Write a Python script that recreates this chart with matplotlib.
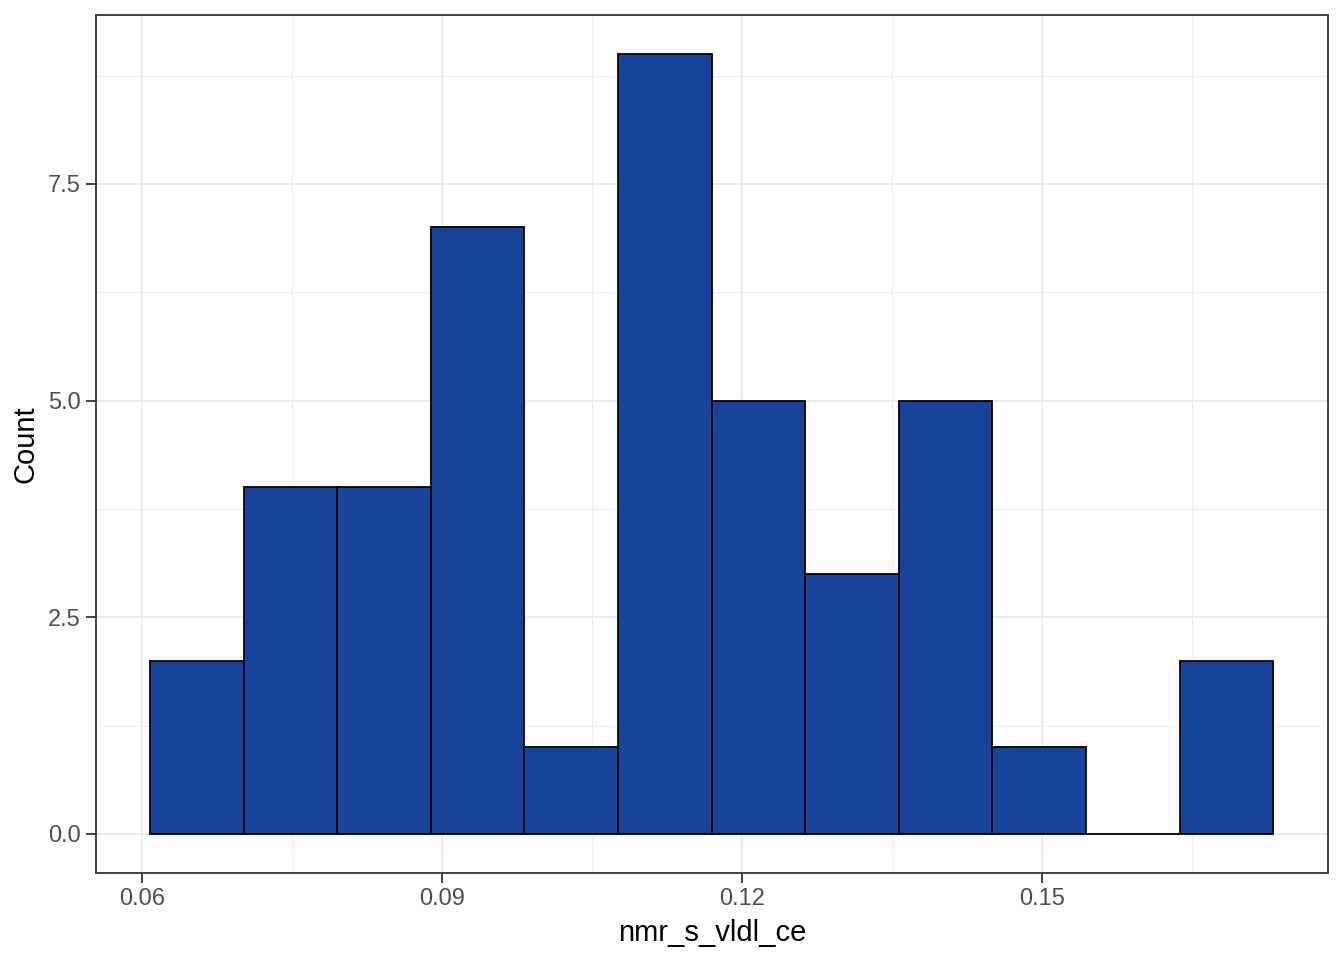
import matplotlib
matplotlib.use("Agg")
import matplotlib.pyplot as plt
import numpy as np

# Data
bin_left = 0.0608
bin_width = 0.00936
counts = [2, 4, 4, 7, 1, 9, 5, 3, 5, 1, 0, 2]
x_ticks = [0.06, 0.09, 0.12, 0.15]
x_tick_labels = ["0.06", "0.09", "0.12", "0.15"]
y_ticks = [0.0, 2.5, 5.0, 7.5]
y_tick_labels = ["0.0", "2.5", "5.0", "7.5"]
x_label = "nmr_s_vldl_ce"
y_label = "Count"
x_limits = (0.0554, 0.1786)

plt.rcParams['font.family'] = ['Liberation Sans', 'DejaVu Sans']

fig = plt.figure(figsize=(13.44, 9.6), dpi=100)
ax = fig.add_axes([96/1344, 87/960, (1328-96)/1344, (873-15)/960])

edges = bin_left + bin_width * np.arange(len(counts) + 1)
lefts = edges[:-1]
ax.bar(lefts, counts, width=bin_width, align='edge', color='#17449A',
       edgecolor='black', linewidth=1.3, zorder=3)

ax.set_xlim(*x_limits)
ymax = max(counts)
ax.set_ylim(-0.05 * ymax, ymax * 1.05)

ax.set_xticks(x_ticks)
ax.set_xticklabels(x_tick_labels)
ax.set_yticks(y_ticks)
ax.set_yticklabels(y_tick_labels)
ax.set_xticks([0.075, 0.105, 0.135, 0.165], minor=True)
ax.set_yticks([1.25, 3.75, 6.25, 8.75], minor=True)

ax.grid(which='major', color='#EBEBEB', linewidth=1.4, zorder=0)
ax.grid(which='minor', color='#EBEBEB', linewidth=0.7, zorder=0)
ax.set_axisbelow(True)

for s in ax.spines.values():
    s.set_color('#333333')
    s.set_linewidth(1.3)

ax.tick_params(which='major', length=7, width=1.3, color='#333333',
               labelsize=17, labelcolor='#4D4D4D', pad=4)
ax.tick_params(which='minor', length=0)

ax.set_xlabel(x_label, fontsize=21, color='black', labelpad=6)
ax.set_ylabel(y_label, fontsize=21, color='black', labelpad=6)

fig.savefig("out.png", dpi=100, facecolor='white')
